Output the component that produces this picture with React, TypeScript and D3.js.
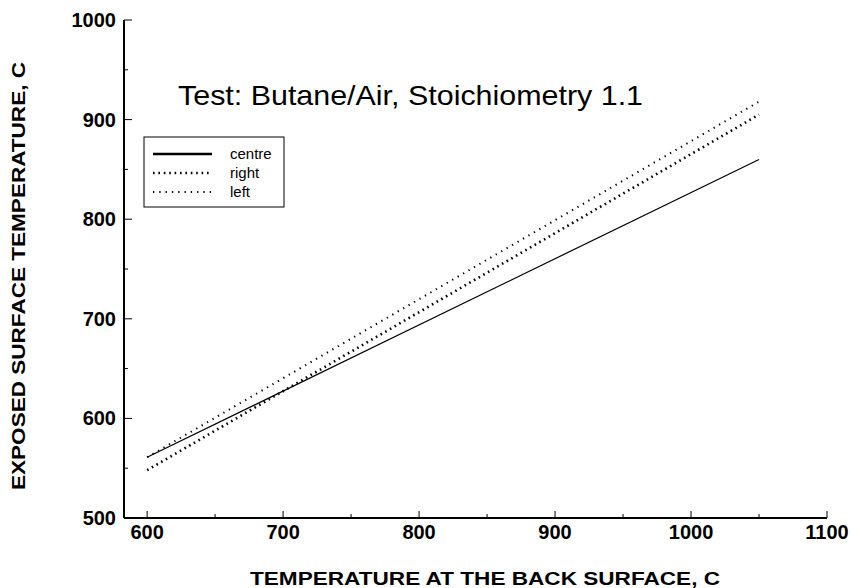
import React from "react";
import * as d3 from "d3";

const xTicks = [600, 700, 800, 900, 1000, 1100];
const xMinor = [650, 750, 850, 950, 1050];
const yTicks = [500, 600, 700, 800, 900, 1000];
const yMinor = [550, 650, 750, 850, 950];

const backTemp = [600, 1050];
const centre = [561, 860];
const right = [548, 905];
const left = [561, 918];

const seriesNames = ["centre", "right", "left"];
const seriesValues = [centre, right, left];
const styles = [
  { w: 1.2, dash: "", lw: 2.4, ldash: "" },
  { w: 2.6, dash: "1.6,3.8", lw: 2.6, ldash: "1.6,3.8" },
  { w: 2, dash: "1.3,5", lw: 2, ldash: "1.3,5" },
];

const FONT = "'Liberation Sans', Arial, Helvetica, sans-serif";

export default function App() {
  const W = 853, H = 588;
  const x = d3.scaleLinear().domain([583, 1100]).range([124, 827]);
  const y = d3.scaleLinear().domain([500, 1000]).range([518, 20]);
  const line = d3.line<[number, number]>().x(d => x(d[0])).y(d => y(d[1]));

  return (
    <svg width={W} height={H} style={{ position: "absolute", left: 0, top: 0, background: "#fff" }} fontFamily={FONT}>
      {/* axes */}
      <line x1={x(583)} x2={x(1100)} y1={y(500)} y2={y(500)} stroke="#000" strokeWidth={2} />
      <line x1={x(583)} x2={x(583)} y1={y(500)} y2={y(1000)} stroke="#000" strokeWidth={2} />
      {xTicks.map(t => (
        <line key={"xt" + t} x1={x(t)} x2={x(t)} y1={y(500)} y2={y(500) - 7} stroke="#000" strokeWidth={1} />
      ))}
      {xMinor.map(t => (
        <line key={"xm" + t} x1={x(t)} x2={x(t)} y1={y(500)} y2={y(500) - 4} stroke="#000" strokeWidth={1} />
      ))}
      {yTicks.map(t => (
        <line key={"yt" + t} x1={x(583)} x2={x(583) + 8} y1={y(t)} y2={y(t)} stroke="#000" strokeWidth={1} />
      ))}
      {yMinor.map(t => (
        <line key={"ym" + t} x1={x(583)} x2={x(583) + 4} y1={y(t)} y2={y(t)} stroke="#000" strokeWidth={1} />
      ))}
      {xTicks.map(t => (
        <text key={"xl" + t} x={x(t)} y={539} textAnchor="middle" fontSize={20} fontWeight="bold">{t}</text>
      ))}
      {yTicks.map(t => (
        <text key={"yl" + t} x={116} y={y(t) + 7} textAnchor="end" fontSize={20} fontWeight="bold">{t}</text>
      ))}
      <text x={250} y={585} fontSize={19} fontWeight="bold" textLength={470} lengthAdjust="spacingAndGlyphs">TEMPERATURE AT THE BACK SURFACE, C</text>
      <text transform={`translate(25,490) rotate(-90)`} fontSize={19} fontWeight="bold" textLength={428} lengthAdjust="spacingAndGlyphs">EXPOSED SURFACE TEMPERATURE, C</text>
      <text x={178} y={105} fontSize={28} textLength={465} lengthAdjust="spacingAndGlyphs">Test: Butane/Air, Stoichiometry 1.1</text>

      {/* series */}
      {seriesValues.map((vals, i) => (
        <path key={seriesNames[i]}
          d={line(backTemp.map((b, j) => [b, vals[j]] as [number, number])) || ""}
          fill="none" stroke="#000" strokeWidth={styles[i].w}
          strokeDasharray={styles[i].dash || undefined} />
      ))}

      {/* legend */}
      <rect x={144} y={137} width={140} height={70} fill="#fff" stroke="#000" strokeWidth={1} />
      {seriesNames.map((n, i) => (
        <g key={"lg" + n}>
          <line x1={153} x2={212} y1={154 + i * 19} y2={154 + i * 19} stroke="#000"
            strokeWidth={styles[i].lw} strokeDasharray={styles[i].ldash || undefined} />
          <text x={230} y={154 + i * 19 + 5} fontSize={15}>{n}</text>
        </g>
      ))}
    </svg>
  );
}
